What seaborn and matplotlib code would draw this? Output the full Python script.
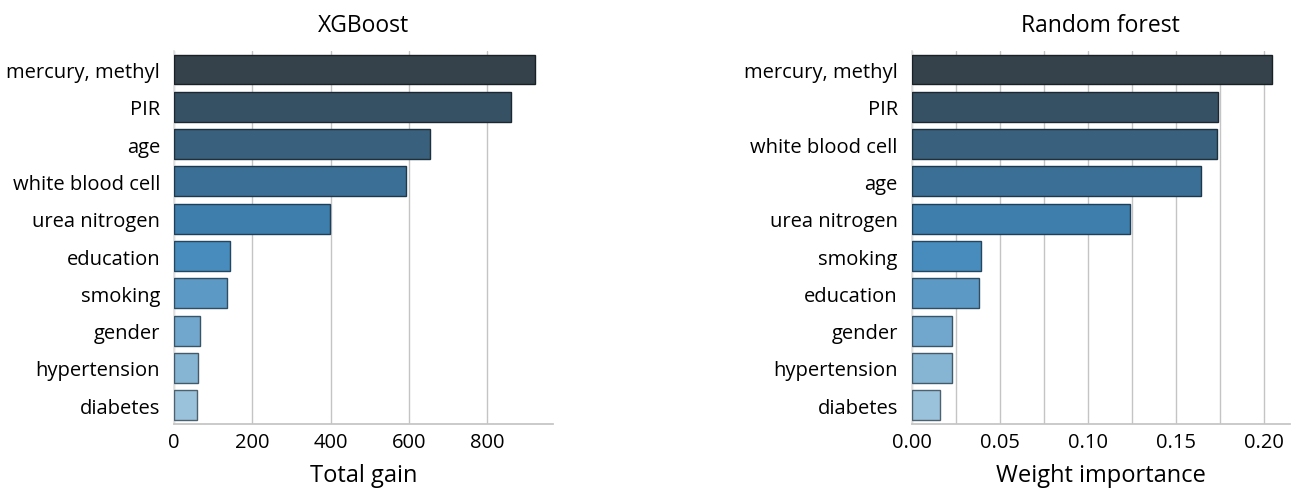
import matplotlib
matplotlib.use("Agg")
import matplotlib.pyplot as plt
from matplotlib.ticker import MultipleLocator, FormatStrFormatter
import matplotlib.colors as mcolors
import numpy as np
import pandas as pd
import seaborn as sns

# Feature importances, XGBoost (total gain)
xgb_features = ["mercury, methyl", "PIR", "age", "white blood cell", "urea nitrogen",
                "education", "smoking", "gender", "hypertension", "diabetes"]
xgb_gain = [921, 860, 653, 593, 399, 143, 135, 66, 62, 60]

# Feature importances, random forest (weight importance)
rf_features = ["mercury, methyl", "PIR", "white blood cell", "age", "urea nitrogen",
               "smoking", "education", "gender", "hypertension", "diabetes"]
rf_weight = [0.205, 0.174, 0.1737, 0.1644, 0.124, 0.0394, 0.0382, 0.0229, 0.0227, 0.0161]

sns.set_theme(style="white")
plt.rcParams["font.family"] = ["Open Sans", "DejaVu Sans"]
plt.rcParams["text.color"] = "black"
plt.rcParams["axes.labelcolor"] = "black"
plt.rcParams["xtick.color"] = "black"
plt.rcParams["ytick.color"] = "black"

palette = sns.color_palette("Blues_r_d", len(xgb_features))

fig = plt.figure(figsize=(13, 4.89), dpi=100)
ax1 = fig.add_axes([0.1338, 0.131, 0.2915, 0.763])
ax2 = fig.add_axes([0.7013, 0.131, 0.291, 0.763])

grid_color = "#c4c4c4"


def draw(ax, feats, vals, title, xlabel):
    df = pd.DataFrame({"feature": feats, "value": vals})
    sns.barplot(data=df, x="value", y="feature", hue="feature", palette=palette,
                legend=False, ax=ax, width=0.8, saturation=0.9, zorder=3)
    for p in ax.patches:
        fc = np.array(mcolors.to_rgb(p.get_facecolor()))
        p.set_edgecolor(tuple(fc * 0.5))
        p.set_linewidth(1.0)
    ax.set_title(title, fontsize=16.5, pad=14)
    ax.set_xlabel(xlabel, fontsize=17, labelpad=8)
    ax.set_ylabel("")
    ax.tick_params(axis="y", labelsize=14.5, length=0, pad=10)
    ax.tick_params(axis="x", labelsize=14.5, length=0, pad=6)
    ax.tick_params(axis="x", which="minor", length=0)
    for side in ("top", "right"):
        ax.spines[side].set_visible(False)
    ax.spines["bottom"].set_color(grid_color)
    ax.spines["left"].set_color("#e2e2e2")
    ax.set_axisbelow(True)
    ax.grid(axis="x", which="both", color=grid_color, linewidth=1.0)
    ax.grid(axis="y", visible=False)
    ax.set_ylim(9.5, -0.5)


draw(ax1, xgb_features, xgb_gain, "XGBoost", "Total gain")
ax1.set_xlim(0, 967)
ax1.xaxis.set_major_locator(MultipleLocator(200))

draw(ax2, rf_features, rf_weight, "Random forest", "Weight importance")
ax2.set_xlim(0, 0.215)
ax2.xaxis.set_major_locator(MultipleLocator(0.05))
ax2.xaxis.set_minor_locator(MultipleLocator(0.025))
ax2.xaxis.set_major_formatter(FormatStrFormatter("%.2f"))

fig.savefig("out.png", dpi=100)
